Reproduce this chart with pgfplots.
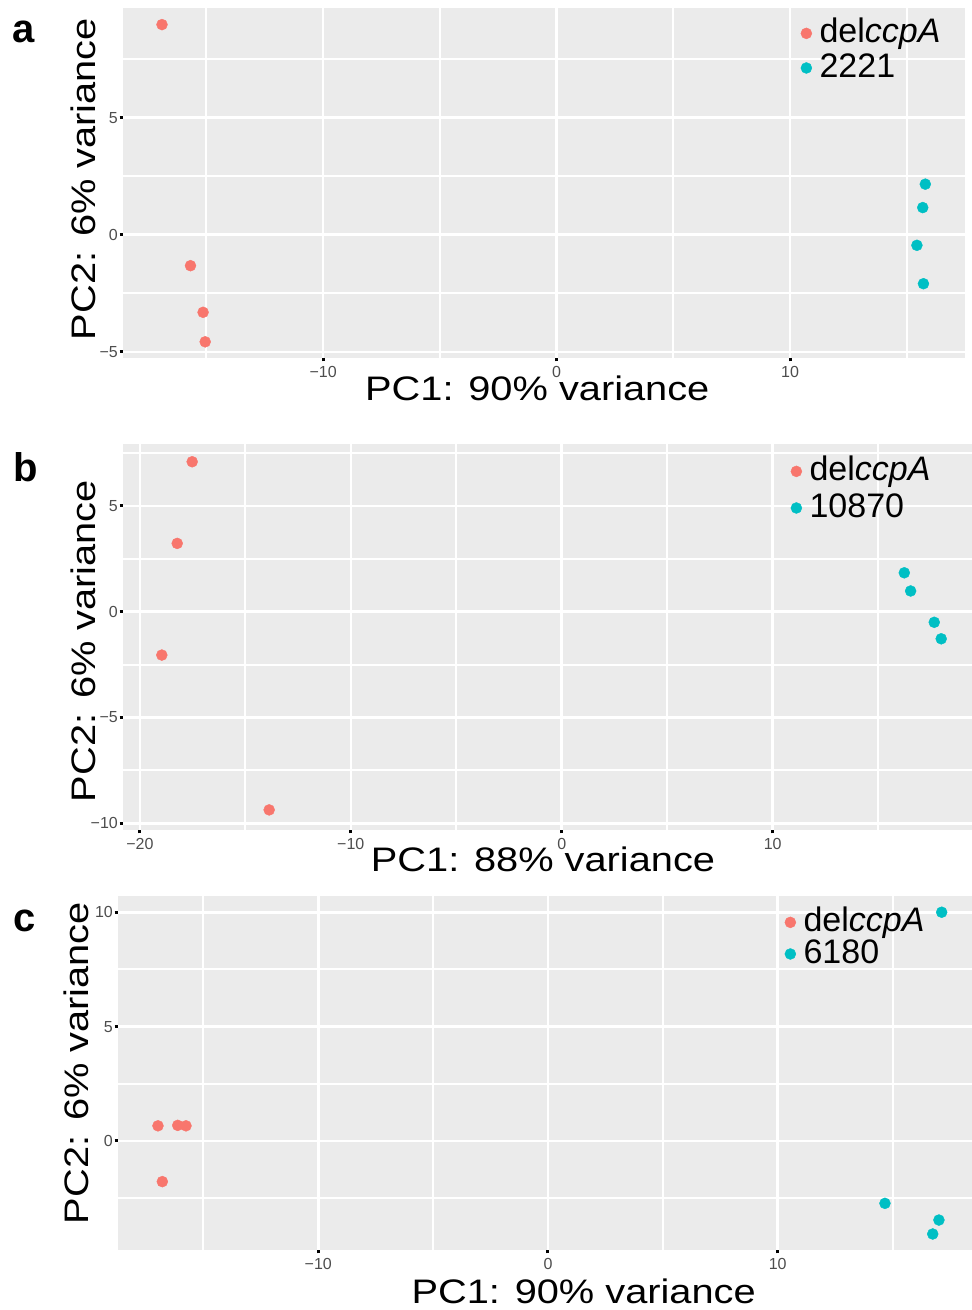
\documentclass[border=0pt]{standalone}
\usepackage{fontspec}
\setmainfont{Liberation Sans}
\newfontfamily\widefont{Liberation Sans}[FakeStretch=1.17]
\usepackage{pgfplots}
\pgfplotsset{compat=1.18}
\definecolor{ggred}{HTML}{F8766D}
\definecolor{ggteal}{HTML}{00BFC4}
\definecolor{ggpanel}{HTML}{EBEBEB}
\definecolor{ggtick}{HTML}{4D4D4D}
\pgfplotsset{
  pca/.style={
    scale only axis, anchor=south west,
    axis line style={draw=none},
    axis background/.style={fill=ggpanel},
    grid=both,
    major grid style={white, line width=2.6bp},
    minor grid style={white, line width=2bp},
    tick align=outside, tick pos=left,
    major tick length=3.5bp, minor tick length=0pt,
    tick style={black, line width=3bp},
    ticklabel style={font=\fontsize{16bp}{18bp}\selectfont, text=ggtick, inner sep=0pt},
    xticklabel style={yshift=-5bp},
    yticklabel style={xshift=-1.5bp},
    only marks,
    legend style={draw=none, fill=none, inner sep=0pt, anchor=north west,
      column sep=7.5bp, font=\fontsize{34bp}{40bp}\selectfont,
      nodes={inner sep=0pt, text height=24bp, text depth=7bp}},
    legend cell align=left,
    legend image code/.code={\fill[##1] (0bp,1bp) circle (5.5bp);},
    every axis x label/.style={at={(axis description cs:0.5,0)}, anchor=base,
      font=\widefont\fontsize{34bp}{40bp}\selectfont},
    every axis y label/.style={at={(axis description cs:0,0.5)}, rotate=90, anchor=base,
      font=\widefont\fontsize{34bp}{40bp}\selectfont},
  },
  red pts/.style={color=ggred, mark=*, mark size=5.5bp, mark options={draw=none, fill=ggred}},
  teal pts/.style={color=ggteal, mark=*, mark size=5.5bp, mark options={draw=none, fill=ggteal}},
}
\begin{document}
\begin{tikzpicture}
\path[use as bounding box] (0,0) rectangle (972bp,1310bp);
% panel a
\begin{axis}[pca, at={(123bp,952bp)}, width=842bp, height=350bp,
  xmin=-18.57, xmax=17.49, ymin=-5.26, ymax=9.68,
  xtick={-10,0,10}, xticklabels={−10,0,10}, minor xtick={-15,-5,5,15},
  ytick={-5,0,5}, yticklabels={−5,0,5}, minor ytick={-2.5,2.5,7.5},
  xlabel={PC1: 90\% variance}, ylabel={PC2: 6\% variance},
  xlabel style={at={([xshift=-6.7bp,yshift=-43bp]axis description cs:0.5,0)}},
  ylabel style={at={([xshift=-28bp,yshift=4bp]axis description cs:0,0.5)}},
  legend style={at={(axis description cs:0.8046,0.9694)}, row sep=3.6bp}]
\addplot[red pts] coordinates {(-16.9,8.97) (-15.68,-1.32) (-15.14,-3.31) (-15.05,-4.57)};
\addlegendentry{del\textit{ccpA}}
\addplot[teal pts] coordinates {(15.79,2.16) (15.68,1.16) (15.43,-0.45) (15.71,-2.09)};
\addlegendentry{2221}
\end{axis}
% panel b
\begin{axis}[pca, at={(123bp,480bp)}, width=849bp, height=386bp,
  xmin=-20.8, xmax=19.45, ymin=-10.32, ymax=7.93,
  xtick={-20,-10,0,10}, xticklabels={−20,−10,0,10}, minor xtick={-15,-5,5,15},
  ytick={-10,-5,0,5}, yticklabels={−10,−5,0,5}, minor ytick={-7.5,-2.5,2.5,7.5},
  xlabel={PC1: 88\% variance}, ylabel={PC2: 6\% variance},
  xlabel style={at={([xshift=-4.5bp,yshift=-41.7bp]axis description cs:0.5,0)}},
  ylabel style={at={([xshift=-28bp,yshift=-4bp]axis description cs:0,0.5)}},
  legend style={at={(axis description cs:0.7862,0.9671)}, row sep=5.6bp}]
\addplot[red pts] coordinates {(-17.52,7.09) (-18.23,3.23) (-18.96,-2.05) (-13.87,-9.37)};
\addlegendentry{del\textit{ccpA}}
\addplot[teal pts] coordinates {(16.24,1.84) (16.54,0.98) (17.66,-0.50) (17.99,-1.28)};
\addlegendentry{10870}
\end{axis}
% panel c
\begin{axis}[pca, at={(118bp,60bp)}, width=854bp, height=354bp,
  xmin=-18.72, xmax=18.46, ymin=-4.77, ymax=10.71,
  xtick={-10,0,10}, xticklabels={−10,0,10}, minor xtick={-15,-5,5,15},
  ytick={0,5,10}, yticklabels={0,5,10}, minor ytick={-2.5,2.5,7.5},
  xlabel={PC1: 90\% variance}, ylabel={PC2: 6\% variance},
  xlabel style={at={([xshift=38.7bp,yshift=-53bp]axis description cs:0.5,0)}},
  ylabel style={at={([xshift=-30bp,yshift=10bp]axis description cs:0,0.5)}},
  legend style={at={(axis description cs:0.7804,0.967)}, row sep=0.6bp}]
\addplot[red pts] coordinates {(-16.98,0.66) (-16.12,0.68) (-15.76,0.66) (-16.79,-1.78)};
\addlegendentry{del\textit{ccpA}}
\addplot[teal pts] coordinates {(17.14,10.0) (14.67,-2.73) (17.02,-3.46) (16.75,-4.07)};
\addlegendentry{6180}
\end{axis}
% panel letters
\node[anchor=base west, inner sep=0pt, font=\bfseries\fontsize{40bp}{44bp}\selectfont] at (12bp,1267bp) {a};
\node[anchor=base west, inner sep=0pt, font=\bfseries\fontsize{40bp}{44bp}\selectfont] at (13bp,828.3bp) {b};
\node[anchor=base west, inner sep=0pt, font=\bfseries\fontsize{40bp}{44bp}\selectfont] at (13bp,378.3bp) {c};
\end{tikzpicture}
\end{document}
